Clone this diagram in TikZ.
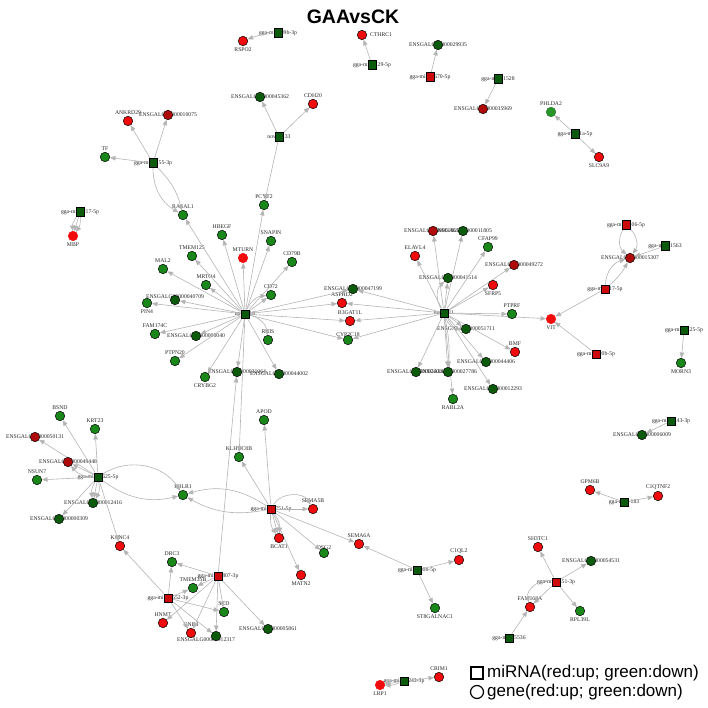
\documentclass[tikz,border=0pt]{standalone}
\usepackage{fontspec}
\setmainfont{Liberation Serif}
\newfontfamily\sansf{Liberation Sans}
\usetikzlibrary{arrows.meta}
\pgfdeclarelayer{lab}
\pgfdeclarelayer{edg}
\pgfsetlayers{lab,edg,main}
\definecolor{cG}{RGB}{25,135,25}
\definecolor{cDG}{RGB}{12,90,12}
\definecolor{cLG}{RGB}{40,150,40}
\definecolor{cR}{RGB}{240,12,12}
\definecolor{cDR}{RGB}{175,10,10}
\definecolor{cE}{RGB}{180,180,180}
\tikzset{
  nd/.style={circle, draw=black, line width=0.5pt, minimum size=9.5pt, inner sep=0pt},
  gG/.style={nd, fill=cG},
  gDG/.style={nd, fill=cDG},
  gLG/.style={nd, fill=cLG, draw=cLG!70!black},
  gR/.style={nd, fill=cR},
  gDR/.style={nd, fill=cDR},
  gRN/.style={nd, fill=cR, draw=cR},
  mi/.style={rectangle, draw=black, line width=0.5pt, minimum size=8.5pt, inner sep=0pt},
  mG/.style={mi, fill=cDG},
  mR/.style={mi, fill=cR!85!black},
  lbl/.style={font=\fontsize{5.7}{6}\selectfont, inner sep=0pt, text=black!85},
  lpa/.style={yshift=8.5pt},
  lpn/.style={yshift=5.5pt},
  lpu/.style={yshift=3pt},
  lpb/.style={yshift=-8.5pt},
  lpc/.style={},
  lpr/.style={anchor=west, xshift=8pt},
  lpx/.style={xshift=-10pt, yshift=-4pt},
  ed/.style={draw=cE, line width=0.6pt, -{Triangle[length=5.5pt,width=4.5pt]}},
}
\newcommand{\gn}[6]{\node[#4] (#1) at (#2,#3) {};\begin{pgfonlayer}{lab}\node[lbl,lp#6] at (#1) {#5};\end{pgfonlayer}}
\begin{document}
\begin{tikzpicture}[x=1pt,y=-1pt]
\useasboundingbox (0,0) rectangle (708,708);
\node[font=\sansf\bfseries\fontsize{19.5}{22}\selectfont] (title) at (353,17) {GAAvsCK};
% ---- top left group
\gn{m155}{153}{163}{mG}{gga-miR-155-3p}{c}
\gn{ANKRD29}{128}{121}{gR}{ANKRD29}{a}
\gn{E10075}{168}{115}{gDR}{ENSGALG00000010075}{c}
\gn{TF}{105}{157}{gG}{TF}{a}
\gn{RASAL1}{183}{215}{gG}{RASAL1}{a}
\gn{m217}{80}{212}{mG}{gga-miR-217-5p}{c}
\gn{MBP}{73}{236}{gRN}{MBP}{b}
% ---- top
\gn{m9b}{278}{33}{mG}{gga-miR-99b-3p}{c}
\gn{RSPO2}{243}{41}{gR}{RSPO2}{b}
\gn{CTHRC1}{362}{35}{gR}{CTHRC1}{r}
\gn{m129}{372}{65}{mG}{gga-miR-129-5p}{c}
\gn{E29935}{438}{45}{gDG}{ENSGALG00000029935}{c}
\gn{m670}{430}{77}{mR}{gga-miR-6670-5p}{c}
\gn{E45362}{260}{97}{gDG}{ENSGALG00000045362}{c}
\gn{CDH20}{313}{104}{gR}{CDH20}{a}
\gn{n133}{279}{137}{mG}{novel-133}{c}
\gn{PCYT2}{264}{205}{gG}{PCYT2}{a}
\gn{SNAPIN}{271}{241}{gG}{SNAPIN}{a}
\gn{m1528}{498}{79}{mG}{gga-miR-1528}{c}
\gn{E35969}{483}{109}{gDR}{ENSGALG00000035969}{c}
\gn{PHLDA2}{551}{112}{gLG}{PHLDA2}{a}
\gn{m5p}{575}{134}{mG}{gga-miR-1a-5p}{c}
\gn{SLC9A9}{599}{157}{gR}{SLC9A9}{b}
% ---- right
\gn{m06}{626}{225}{mR}{gga-miR-106-5p}{c}
\gn{m1563}{665}{246}{mG}{gga-miR-1563}{c}
\gn{E15307}{630}{258}{gDR}{ENSGALG00000015307}{c}
\gn{m17}{605}{289}{mR}{gga-miR-17-5p}{c}
\gn{VIT}{551}{319}{gRN}{VIT}{b}
\gn{m20b}{596}{354}{mR}{gga-miR-20b-5p}{c}
\gn{m25}{684}{330}{mG}{gga-miR-125-5p}{c}
\gn{MORN3}{681}{363}{gG}{MORN3}{b}
\gn{m43}{671}{421}{mG}{gga-miR-143-3p}{c}
\gn{E6009}{642}{435}{gDG}{ENSGALG00000006009}{c}
% ---- right hub
\gn{n11}{444}{313}{mG}{novel-11}{c}
\gn{E18a}{433}{231}{gDR}{ENSGALG00000018655}{c}
\gn{E11805}{463}{231}{gDG}{ENSGALG00000011805}{c}
\gn{CFAP99}{488}{247}{gG}{CFAP99}{a}
\gn{ELAVL4}{415}{256}{gR}{ELAVL4}{a}
\gn{E41514}{448}{278}{gDG}{ENSGALG00000041514}{c}
\gn{E49272}{514}{265}{gDR}{ENSGALG00000049272}{c}
\gn{SFRP5}{493}{285}{gR}{SFRP5}{b}
\gn{PTPRF}{512}{314}{gG}{PTPRF}{a}
\gn{E51711}{466}{329}{gDG}{ENSGALG00000051711}{c}
\gn{BMF}{515}{352}{gR}{BMF}{a}
\gn{E44406}{486}{362}{gDG}{ENSGALG00000044406}{c}
\gn{E12293}{493}{389}{gDG}{ENSGALG00000012293}{c}
\gn{E26}{416}{372}{gDG}{ENSGALG00000026086}{c}
\gn{E27786}{448}{372}{gDG}{ENSGALG00000027786}{c}
\gn{RABL2A}{453}{399}{gG}{RABL2A}{b}
\gn{E47199}{353}{289}{gDG}{ENSGALG00000047199}{c}
\gn{ASPHD2}{342}{303}{gR}{ASPHD2}{a}
\gn{B3GAT1L}{350}{321}{gR}{B3GAT1L}{a}
\gn{CYP2C18}{348}{340}{gG}{CYP2C18}{n}
% ---- central hub
\gn{n18}{245}{314}{mG}{novel-18}{c}
\gn{HBEGF}{222}{235}{gG}{HBEGF}{a}
\gn{TMEM125}{192}{256}{gG}{TMEM125}{a}
\gn{MTURN}{243}{258}{gRN}{MTURN}{a}
\gn{CD79B}{292}{262}{gG}{CD79B}{a}
\gn{MAL2}{163}{269}{gG}{MAL2}{a}
\gn{MRTO4}{206}{285}{gG}{MRTO4}{a}
\gn{CD72}{271}{295}{gG}{CD72}{a}
\gn{E40709}{175}{300}{gDG}{ENSGALG00000040709}{u}
\gn{PIN4}{147}{303}{gG}{PIN4}{b}
\gn{FAM174C}{155}{334}{gG}{FAM174C}{a}
\gn{E00040}{196}{336}{gDG}{ENSGALG00000000040}{c}
\gn{RBIS}{268}{340}{gG}{RBIS}{a}
\gn{PTPN20}{175}{361}{gG}{PTPN20}{a}
\gn{CRYBG2}{205}{377}{gG}{CRYBG2}{b}
\gn{E31064}{237}{372}{gDG}{ENSGALG00000031064}{c}
\gn{E44002}{279}{374}{gDG}{ENSGALG00000044002}{c}
\gn{APOD}{264}{420}{gG}{APOD}{a}
\gn{KLHDC8B}{239}{457}{gG}{KLHDC8B}{a}
% ---- lower left
\gn{m625}{98}{477}{mG}{gga-miR-1625-5p}{c}
\gn{BSND}{60}{416}{gG}{BSND}{a}
\gn{KRT23}{95}{429}{gG}{KRT23}{a}
\gn{E50131}{35}{437}{gDR}{ENSGALG00000050131}{c}
\gn{E49448}{68}{462}{gDR}{ENSGALG00000049448}{c}
\gn{NSUN7}{37}{480}{gG}{NSUN7}{a}
\gn{E12416}{93}{503}{gDG}{ENSGALG00000012416}{c}
\gn{E00309}{59}{519}{gDG}{ENSGALG00000000309}{c}
\gn{FOLR1}{183}{495}{gG}{FOLR1}{a}
\gn{KCNC4}{120}{546}{gR}{KCNC4}{a}
\gn{m5red}{271}{509}{mR}{gga-miR-1751-5p}{c}
\gn{SEMA5B}{313}{509}{gR}{SEMA5B}{a}
\gn{BCAT1}{279}{538}{gR}{BCAT1}{b}
\gn{DSG2}{324}{553}{gG}{DSG2}{n}
\gn{MATN2}{301}{575}{gR}{MATN2}{b}
\gn{SEMA6A}{359}{544}{gR}{SEMA6A}{a}
\gn{m30b}{417}{570}{mG}{gga-miR-30b-5p}{c}
\gn{C1QL2}{459}{560}{gR}{C1QL2}{a}
\gn{ST8GALNAC1}{435}{608}{gG}{ST8GALNAC1}{b}
\gn{m07}{218}{576}{mR}{gga-miR-1807-3p}{c}
\gn{DRC3}{172}{562}{gG}{DRC3}{a}
\gn{TMEM35B}{193}{588}{gG}{TMEM35B}{a}
\gn{m3p}{168}{598}{mR}{gga-miR-1552-3p}{c}
\gn{SCD}{224}{612}{gG}{SCD}{a}
\gn{HNMT}{163}{623}{gR}{HNMT}{a}
\gn{GNB4}{191}{633}{gR}{GNB4}{a}
\gn{E12317}{216}{636}{gDG}{ENSGALG00000012317}{x}
\gn{E05861}{268}{629}{gDG}{ENSGALG00000005861}{c}
\gn{CRIM1}{439}{677}{gR}{CRIM1}{a}
\gn{m2243}{404}{681}{mG}{gga-miR-2243-3p}{c}
\gn{LRP1}{380}{685}{gRN}{LRP1}{b}
% ---- lower right
\gn{GPM6B}{590}{490}{gR}{GPM6B}{a}
\gn{m183}{624}{502}{mG}{gga-miR-183}{c}
\gn{C1QTNF2}{658}{496}{gR}{C1QTNF2}{a}
\gn{SH3TC1}{538}{547}{gR}{SH3TC1}{a}
\gn{E54531}{591}{561}{gDG}{ENSGALG00000054531}{c}
\gn{m451}{556}{582}{mR}{gga-miR-451-3p}{c}
\gn{FAM168A}{530}{607}{gR}{FAM168A}{a}
\gn{RPL39L}{580}{611}{gG}{RPL39L}{b}
\gn{m5536}{509}{638}{mG}{gga-miR-5536}{c}
% ---- edges
\begin{pgfonlayer}{edg}
\draw[ed] (m155) -- (ANKRD29);
\draw[ed] (m155) -- (E10075);
\draw[ed] (m155) -- (TF);
\draw[ed] (m155) to[bend right=30] (RASAL1);
\draw[ed] (m155) to[bend left=15] (RASAL1);
\draw[ed] (m217) to[bend left=20] (MBP);
\draw[ed] (m217) -- (MBP);
\draw[ed] (m217) to[bend right=20] (MBP);
\draw[ed] (m9b) to[bend right=8] (RSPO2);
\draw[ed] (m129) -- (CTHRC1);
\draw[ed] (m670) -- (E29935);
\draw[ed] (n133) -- (E45362);
\draw[ed] (n133) -- (CDH20);
\draw[ed] (n133) -- (PCYT2);
\draw[ed] (m1528) -- (E35969);
\draw[ed] (m5p) -- (PHLDA2);
\draw[ed] (m5p) -- (SLC9A9);
\draw[ed] (m06) to[bend left=40] (E15307);
\draw[ed] (m06) to[bend right=40] (E15307);
\draw[ed] (m1563) -- (E15307);
\draw[ed] (m17) to[bend left=35] (E15307);
\draw[ed] (m17) to[bend right=10] (E15307);
\draw[ed] (m17) -- (VIT);
\draw[ed] (m20b) -- (VIT);
\draw[ed] (m25) -- (MORN3);
\draw[ed] (m43) -- (E6009);
% central hub
\foreach \t in {RASAL1,HBEGF,TMEM125,MTURN,SNAPIN,PCYT2,CD79B,MAL2,MRTO4,CD72,E40709,PIN4,FAM174C,E00040,PTPN20,CRYBG2,E31064,E44002,KLHDC8B,E47199,ASPHD2,B3GAT1L,CYP2C18}
  \draw[ed] (n18) -- (\t);
\draw[ed] (n18) to[bend left=30] (CD72);
\draw[ed] (n18) to[bend left=35] (RBIS);
% right hub
\foreach \t in {E18a,E11805,CFAP99,ELAVL4,E41514,E49272,SFRP5,PTPRF,VIT,E51711,BMF,E44406,E12293,E26,E27786,RABL2A,E47199,ASPHD2,B3GAT1L,CYP2C18}
  \draw[ed] (n11) -- (\t);
\draw[ed] (n11) to[bend left=40] (E41514);
\draw[ed] (n11) to[bend right=35] (E51711);
\draw[ed] (n11) to[bend left=8] (E27786);
% 625 hub
\foreach \t in {BSND,KRT23,E50131,E49448,NSUN7,E12416,E00309,KCNC4}
  \draw[ed] (m625) -- (\t);
\draw[ed] (m625) to[bend left=25] (E49448);
\draw[ed] (m625) to[bend left=20] (E12416);
\draw[ed] (m625) to[bend right=20] (E12416);
\draw[ed] (m625) to[bend left=45] (FOLR1);
\draw[ed] (m625) to[bend right=25] (FOLR1);
% red 5p hub
\foreach \t in {SEMA5B,BCAT1,DSG2,MATN2,SEMA6A,APOD,KLHDC8B}
  \draw[ed] (m5red) -- (\t);
\draw[ed] (m5red) to[bend left=60] (SEMA5B);
\draw[ed] (m5red) to[bend left=20] (BCAT1);
\draw[ed] (m5red) to[bend right=20] (BCAT1);
\draw[ed] (m5red) to[bend right=25] (FOLR1);
\draw[ed] (m5red) to[bend left=20] (FOLR1);
\draw[ed] (m30b) -- (SEMA6A);
\draw[ed] (m30b) -- (C1QL2);
\draw[ed] (m30b) -- (ST8GALNAC1);
% 07-3p and 3p hubs
\foreach \t in {DRC3,TMEM35B,SCD,E12317,GNB4,HNMT,E05861,E31064}
  \draw[ed] (m07) -- (\t);
\foreach \t in {KCNC4,DRC3,TMEM35B,SCD,E12317,GNB4}
  \draw[ed] (m3p) -- (\t);
% bottom
\draw[ed] (m2243) -- (CRIM1);
\draw[ed] (m2243) to[bend left=12] (LRP1);
\draw[ed] (m2243) -- (LRP1);
\draw[ed] (m2243) to[bend right=12] (LRP1);
\draw[ed] (m183) -- (GPM6B);
\draw[ed] (m183) -- (C1QTNF2);
\draw[ed] (m451) -- (SH3TC1);
\draw[ed] (m451) -- (E54531);
\draw[ed] (m451) -- (RPL39L);
\draw[ed] (m451) -- (FAM168A);
\draw[ed] (m451) to[bend right=60] (FAM168A);
\draw[ed] (m5536) -- (FAM168A);
\end{pgfonlayer}
% ---- legend
\node[rectangle, draw=black, line width=1.2pt, minimum size=12pt, inner sep=0pt] (legsq) at (477,673) {};
\node[anchor=west, font=\sansf\fontsize{17}{19}\selectfont, inner sep=0pt] (legsqt) at (487,673) {miRNA(red:up; green:down)};
\node[circle, draw=black, line width=1.2pt, minimum size=13pt, inner sep=0pt] (legci) at (477,692) {};
\node[anchor=west, font=\sansf\fontsize{17}{19}\selectfont, inner sep=0pt] (legcit) at (487,692) {gene(red:up; green:down)};
\end{tikzpicture}
\end{document}
